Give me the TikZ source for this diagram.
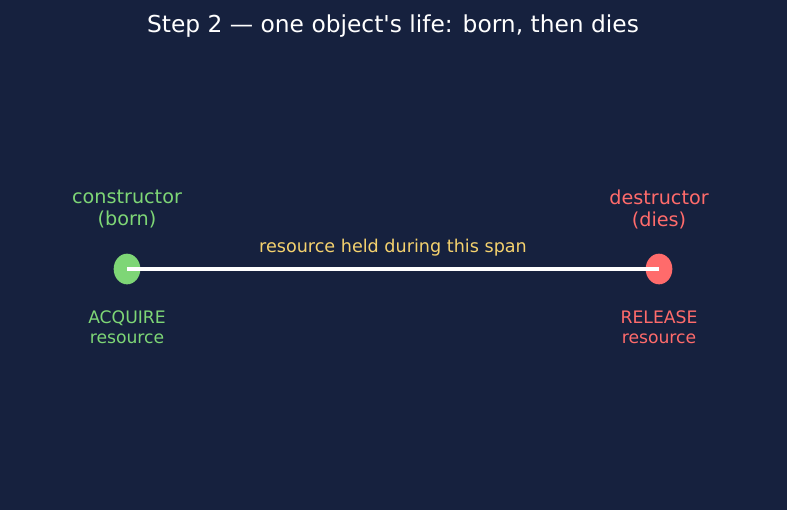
\documentclass[tikz,border=0pt]{standalone}
\usepackage{fontspec}
\setmainfont{DejaVu Sans}
\definecolor{navy}{RGB}{22,33,62}
\definecolor{born}{RGB}{126,214,118}
\definecolor{dies}{RGB}{255,107,107}
\definecolor{span}{RGB}{245,210,110}
\usetikzlibrary{positioning,shapes.geometric}

\begin{document}
\begin{tikzpicture}[x=0.75pt,y=-0.75pt,
    event/.style={ellipse,minimum width=20pt,minimum height=23pt,inner sep=0pt},
    biglabel/.style={align=center,font=\fontsize{14.4}{16.5}\selectfont},
    smalllabel/.style={align=center,font=\fontsize{12.9}{15}\selectfont}]
    % background
    \fill[navy] (0,0) rectangle (787,510);
    \useasboundingbox (0,0) rectangle (787,510);

    \node[white,font=\fontsize{17.5}{20}\selectfont] (title) at (393,26) {Step 2 — one object\textquotesingle s life: born, then dies};

    % the two moments of the lifetime
    \node[event,fill=born] (ctor) at (127,269) {};
    \node[event,fill=dies] (dtor) at (659,269) {};

    \node[biglabel,text=born] (ctorlbl) at (127,209) {constructor\\(born)};
    \node[biglabel,text=dies] (dtorlbl) at (659,209) {destructor\\(dies)};
    \node[smalllabel,text=born] (acq) at (127,327) {ACQUIRE\\resource};
    \node[smalllabel,text=dies] (rel) at (659,327) {RELEASE\\resource};

    % held span
    \draw[white,line width=3pt] (ctor.center) -- (dtor.center);
    \node[text=span,font=\fontsize{13.2}{15}\selectfont] (held) at (393,248) {resource held during this span};
\end{tikzpicture}
\end{document}
